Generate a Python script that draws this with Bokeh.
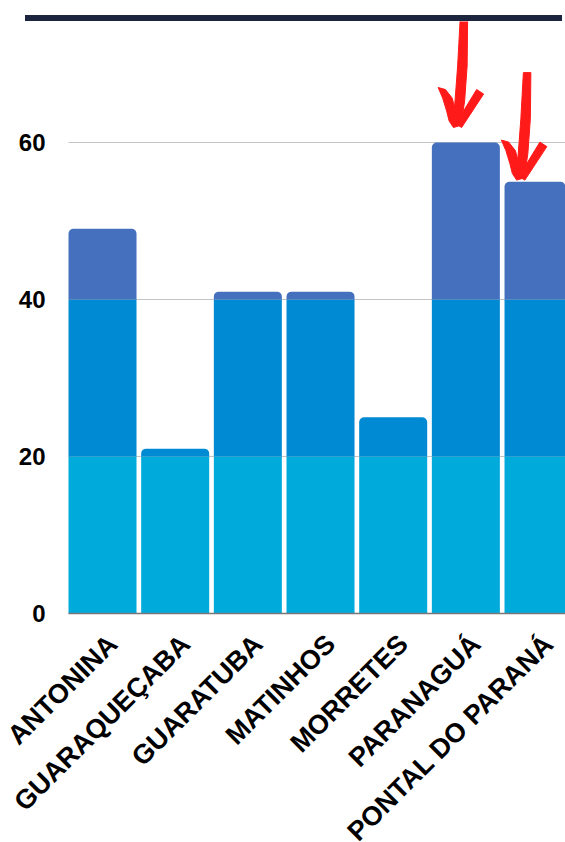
import math
from bokeh.plotting import figure
from bokeh.models import Range1d, FixedTicker, ColumnDataSource, Div
from bokeh.layouts import column
from bokeh.embed import file_html
from bokeh.resources import INLINE

# ---- data ----
categories = ["ANTONINA", "GUARAQUEÇABA", "GUARATUBA", "MATINHOS",
              "MORRETES", "PARANAGUÁ", "PONTAL DO PARANÁ"]
values = [49, 21, 41, 41, 25, 60, 55]
band_edges = [0, 20, 40]
band_colors = ["#00ABDB", "#008AD4", "#4470BD"]
y_ticks = [0, 20, 40, 60]
highlighted = ["PARANAGUÁ", "PONTAL DO PARANÁ"]

# ---- layout constants ----
W = 565
BAR_TOP_GAP, BAR_THICK = 15, 6
H = 842 - BAR_TOP_GAP - BAR_THICK
PX_PER_UNIT_X = 72.67       # horizontal pixels per category step
PX_PER_UNIT_Y = 7.85        # vertical pixels per value unit
PLOT_LEFT_PX = 68           # pixel column where the first bar starts
BASELINE_FROM_TOP = 592     # pixel row of value 0 inside the figure
BAR_W = 0.936
X_LEFT = -BAR_W / 2                         # left edge of bar area
X0 = X_LEFT - PLOT_LEFT_PX / PX_PER_UNIT_X
X1 = X0 + W / PX_PER_UNIT_X
Y1 = BASELINE_FROM_TOP / PX_PER_UNIT_Y
Y0 = -(H - BASELINE_FROM_TOP) / PX_PER_UNIT_Y
LABEL_SHIFT = 0.14

p = figure(width=W, height=H, output_backend="svg", toolbar_location=None,
           x_range=Range1d(X0, X1), y_range=Range1d(Y0, Y1),
           min_border_left=0, min_border_right=0,
           min_border_top=0, min_border_bottom=0)
p.outline_line_color = None
p.background_fill_color = "white"
p.border_fill_color = "white"

ux = 1.0 / PX_PER_UNIT_X   # data units per pixel (x)
uy = 1.0 / PX_PER_UNIT_Y   # data units per pixel (y)

# ---- horizontal grid lines (start at bar area) ----
grid_vals = [t for t in y_ticks if t > 0]
p.segment(x0=[X_LEFT] * len(grid_vals), x1=[X1] * len(grid_vals),
          y0=grid_vals, y1=grid_vals, line_color="#C4C4C4", line_width=1)

# ---- stacked band segments ----
seg = {"top": dict(x=[], bottom=[], top=[], color=[]),
       "inner": dict(x=[], bottom=[], top=[], color=[])}
for i, v in enumerate(values):
    parts = []
    for k, lo in enumerate(band_edges):
        hi = band_edges[k + 1] if k + 1 < len(band_edges) else float("inf")
        if v > lo:
            parts.append((lo, min(v, hi), band_colors[k]))
    for j, (lo, hi, c) in enumerate(parts):
        key = "top" if j == len(parts) - 1 else "inner"
        seg[key]["x"].append(i)
        seg[key]["bottom"].append(lo)
        seg[key]["top"].append(hi)
        seg[key]["color"].append(c)

p.vbar(x="x", bottom="bottom", top="top", width=BAR_W, color="color",
       source=ColumnDataSource(seg["inner"]), line_color=None)
p.vbar(x="x", bottom="bottom", top="top", width=BAR_W, color="color",
       source=ColumnDataSource(seg["top"]), line_color=None,
       border_radius=(5, 5, 0, 0))

# ---- baseline ----
p.segment(x0=[X_LEFT], x1=[X1], y0=[0], y1=[0],
          line_color="#777777", line_width=1.5)

# ---- x axis pinned at value 0 ----
tick_pos = [round(i + LABEL_SHIFT, 2) for i in range(len(categories))]
p.xaxis.fixed_location = 0
p.xaxis.ticker = FixedTicker(ticks=tick_pos)
p.xaxis.major_label_overrides = {t: c for t, c in zip(tick_pos, categories)}
p.xaxis.major_label_orientation = math.pi / 4
p.xaxis.major_tick_out = 0
p.xaxis.major_tick_in = 0
p.xaxis.minor_tick_line_color = None
p.xaxis.axis_line_color = None
p.xaxis.major_label_text_font = "Liberation Sans"
p.xaxis.major_label_text_font_style = "bold"
p.xaxis.major_label_text_font_size = "27px"
p.xaxis.major_label_text_color = "black"
p.xaxis.major_label_standoff = 26

# ---- y axis pinned at the left edge of the bar area ----
p.yaxis.fixed_location = X_LEFT
p.yaxis.ticker = FixedTicker(ticks=y_ticks)
p.yaxis.major_tick_out = 0
p.yaxis.major_tick_in = 0
p.yaxis.minor_tick_line_color = None
p.yaxis.axis_line_color = None
p.yaxis.major_label_text_font = "Liberation Sans"
p.yaxis.major_label_text_font_style = "bold"
p.yaxis.major_label_text_font_size = "24px"
p.yaxis.major_label_text_color = "black"
p.yaxis.major_label_standoff = 23

p.xgrid.grid_line_color = None
p.ygrid.grid_line_color = None

# ---- red hand-drawn arrows pointing at highlighted bars ----
tip_offsets = [(-0.12, 2.1), (-0.25, 0.4)]
shaft = [(3, 106), (10.5, 106), (10, 60), (7.5, 25), (4.5, 5), (0, 0),
         (-2.5, 20), (0.5, 60)]
left_barb = [(-19, 38.5), (-11.7, 36.5), (-5, 28), (-1.5, 15), (1.5, 0),
             (-3.7, -1.5), (-8, 5), (-10.5, 15), (-14.5, 28)]
right_barb = [(19.5, 36.5), (26.5, 32), (4.5, -1.5), (-1.5, 2)]
for name, (ox, oy) in zip(highlighted, tip_offsets):
    i = categories.index(name)
    tx, ty = i + ox, values[i] + oy
    for path in (shaft, left_barb, right_barb):
        p.patch([tx + dx * ux for dx, _ in path],
                [ty + dy * uy for _, dy in path],
                fill_color="#FF1A1A", line_color="#FF1A1A", line_width=1,
                line_join="round")

# ---- decorative dark bar above the chart ----
top_bar = Div(width=537, height=BAR_THICK,
              styles={"background-color": "#1C2540"},
              margin=(BAR_TOP_GAP, 0, 0, 25))

layout = column(top_bar, p, spacing=0)
open("out.html", "w").write(file_html(layout, INLINE))
